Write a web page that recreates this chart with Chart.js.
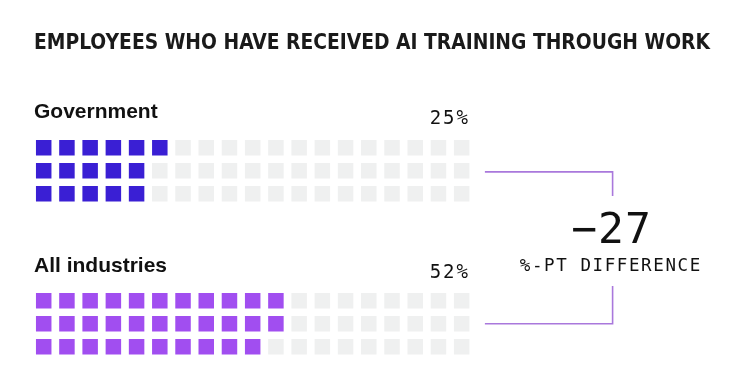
<!DOCTYPE html>
<html>
<head>
<meta charset="utf-8">
<script src="https://cdn.jsdelivr.net/npm/chart.js@4"></script>
<style>
  html, body { margin: 0; padding: 0; background: #ffffff; }
  #wrap { position: relative; width: 748px; height: 384px; overflow: hidden; }
  #c { position: absolute; left: 0; top: 0; }
  .t { position: absolute; white-space: nowrap; line-height: 1; color: #111111; }
  .title { font-family: "Liberation Sans Narrow", "DejaVu Sans Condensed", "Liberation Sans", sans-serif; font-stretch: condensed; font-weight: 700; font-size: 21px; color: #1a1a1a; transform-origin: 0 0; }
  .grp { font-family: "Liberation Sans", Arial, sans-serif; font-weight: 700; font-size: 21px; }
  .pct { font-family: "DejaVu Sans Mono", monospace; font-size: 19px; letter-spacing: 2px; }
  .big { font-family: "DejaVu Sans Mono", monospace; font-size: 43px; letter-spacing: 1px; }
  .sub { font-family: "DejaVu Sans Mono", monospace; font-size: 17.5px; letter-spacing: 1.6px; }
</style>
</head>
<body>
<div id="wrap">
  <canvas id="c" width="748" height="384"></canvas>
</div>
<script>
// ---- data ----
const title = "EMPLOYEES WHO HAVE RECEIVED AI TRAINING THROUGH WORK";
const categories = ["Government", "All industries"];
const percentLabels = ["25%", "52%"];
const filledCells = [16, 32];          // coloured squares in each waffle
const gridColumns = 19;
const gridRows = 3;
const differenceValue = "\u221227";
const differenceLabel = "%-PT DIFFERENCE";

// ---- styling / layout ----
const fillColors = ["#3a1fd4", "#a14ef0"];
const emptyColor = "#eff0f0";
const bracketColor = "#a978dc";
const groupRowOffset = [0, 6.65];      // vertical position of each waffle in row units

function cells(g, filled) {
  const pts = [];
  const total = gridColumns * gridRows;
  for (let i = 0; i < total; i++) {
    const col = Math.floor(i / gridRows);
    const row = i % gridRows;
    const isFilled = i < filledCells[g];
    if (isFilled === filled) pts.push({ x: col, y: groupRowOffset[g] + row });
  }
  return pts;
}

const datasets = [];
categories.forEach((cat, g) => {
  datasets.push({ label: cat + " (rest)", data: cells(g, false), backgroundColor: emptyColor,
    pointStyle: "rect", pointRadius: 10.96, pointBorderWidth: 0, borderWidth: 0 });
  datasets.push({ label: cat, data: cells(g, true), backgroundColor: fillColors[g],
    pointStyle: "rect", pointRadius: 10.96, pointBorderWidth: 0, borderWidth: 0 });
});

// bracket connecting the middle rows of the two waffles
const bx0 = gridColumns, bx1 = gridColumns + 5.5;
const yTop = groupRowOffset[0] + 1.05, yBot = groupRowOffset[1] + 1.0;
datasets.push({
  type: "line", label: "bracket",
  data: [{x: bx0, y: yTop}, {x: bx1, y: yTop}, {x: bx1, y: yTop + 1.05}, {x: bx1, y: null},
         {x: bx1, y: yBot - 1.64}, {x: bx1, y: yBot}, {x: bx0, y: yBot}],
  borderColor: bracketColor, borderWidth: 1.6, pointRadius: 0, spanGaps: false, fill: false,
  borderCapStyle: "butt", borderJoinStyle: "miter", tension: 0
});

new Chart(document.getElementById("c"), {
  type: "scatter",
  data: { datasets },
  options: {
    responsive: false, animation: false, devicePixelRatio: 1,
    layout: { autoPadding: false, padding: { left: 32.1, right: 19.3, top: 0, bottom: 0 } },
    scales: {
      x: { type: "linear", display: false, min: -0.5, max: 29.5 },
      y: { type: "linear", display: false, reverse: true, min: -6.424, max: 10.272 }
    },
    plugins: { legend: { display: false }, tooltip: { enabled: false }, title: { display: false } },
    elements: { point: { hoverRadius: 10.96 } }
  }
});

// ---- text ----
const wrap = document.getElementById("wrap");
function addText(txt, cls, x, baseline, align) {
  const el = document.createElement("div");
  el.className = "t " + cls;
  el.textContent = txt;
  wrap.appendChild(el);
  const fs = parseFloat(getComputedStyle(el).fontSize);
  el.style.top = (baseline - 0.846 * fs) + "px";
  const w = el.getBoundingClientRect().width;
  const ls = parseFloat(getComputedStyle(el).letterSpacing) || 0;
  if (align === "left") el.style.left = x + "px";
  else if (align === "right") el.style.left = (x - w + ls) + "px";
  else el.style.left = (x - (w - ls) / 2) + "px";
  return el;
}
const t = addText(title, "title", 34, 50, "left");
const tw = t.getBoundingClientRect().width;
t.style.transform = "scaleX(" + (676 / tw) + ")";

const groupBaselines = [118, 272];
const pctBaselines = [124, 278];
categories.forEach((cat, g) => {
  addText(cat, "grp", 34, groupBaselines[g], "left");
  addText(percentLabels[g], "pct", 468, pctBaselines[g], "right");
});
addText(differenceValue, "big", 611, 243, "center");
addText(differenceLabel, "sub", 610, 272, "center");
</script>
</body>
</html>
